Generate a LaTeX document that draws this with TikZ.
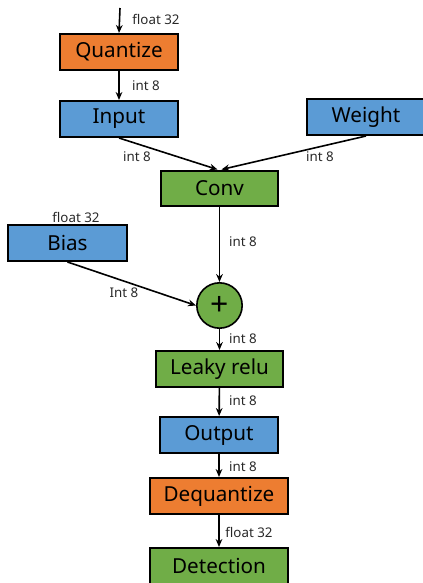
\documentclass[tikz,border=0pt]{standalone}
\usepackage{fontspec}
\setmainfont{Noto Sans}
\usepackage{tikz}
\usetikzlibrary{arrows.meta,positioning,shapes.geometric}
\definecolor{quantorange}{RGB}{237, 125, 49}
\definecolor{tensorblue}{RGB}{91, 155, 213}
\definecolor{opgreen}{RGB}{112, 173, 71}
\definecolor{fontgray}{RGB}{40, 40, 40}

\begin{document}
\begin{tikzpicture}[x=0.75pt, y=-0.75pt, >={Stealth[length=6pt,width=5pt]},
			block/.style={draw=black, rectangle, line width=1.5pt, minimum height=27pt, inner sep=0pt, font=\fontsize{15.5}{18}\selectfont},
			quantbox/.style={block, fill=quantorange},
			tensorbox/.style={block, fill=tensorblue},
			opbox/.style={block, fill=opgreen},
			addnode/.style={draw=black, circle, line width=1.2pt, minimum size=34pt, inner sep=0pt, fill=opgreen, font=\fontsize{24}{24}\selectfont\bfseries},
			dtype/.style={draw=none, inner sep=0pt, text=fontgray, font=\fontsize{10}{12}\selectfont},
			flow/.style={->, line width=1.2pt, color=black}
			]
			\useasboundingbox (0,0) rectangle (423,583);
			
			\coordinate (src) at (120,8);
			\node[quantbox, minimum width=88.5pt](quant) at (119,52) {Quantize};
			\node[tensorbox, minimum width=88.5pt](input) at (119,119) {Input};
			\node[tensorbox, minimum width=88.5pt](weight) at (366,117) {Weight};
			\node[opbox, minimum width=87.75pt, minimum height=26.25pt](conv) at (219.5,188) {Conv};
			\node[tensorbox, minimum width=89.25pt](bias) at (67.5,243) {Bias};
			\node[addnode](plus) at (219.5,305.5) {+};
			\node[opbox, minimum width=95.25pt](leaky) at (219.5,369) {Leaky relu};
			\node[tensorbox, minimum width=88.5pt](output) at (219,435) {Output};
			\node[quantbox, minimum width=103.5pt](dequant) at (219,496) {Dequantize};
			\node[opbox, minimum width=103.5pt](detect) at (219,566) {Detection};
			
			% data types on the connectors
			\node[dtype](d0) at (156,19) {float 32};
			\node[dtype](d1) at (146,86) {int 8};
			\node[dtype](d2) at (137,157) {int 8};
			\node[dtype](d3) at (320,157) {int 8};
			\node[dtype](d4) at (76,217) {float 32};
			\node[dtype](d5) at (243,242) {int 8};
			\node[dtype](d6) at (124,293) {Int 8};
			\node[dtype](d7) at (243,339) {int 8};
			\node[dtype](d8) at (243,401) {int 8};
			\node[dtype](d9) at (243,467) {int 8};
			\node[dtype](d10) at (249,532) {float 32};
			
			\draw [flow] (src) to (quant.north);
			\draw [flow] (quant) to (input);
			\draw [flow] (input.south) to ([xshift=-1.5pt]conv.north);
			\draw [flow] (weight.south) to ([xshift=1.5pt]conv.north);
			\draw [flow] (conv) to (plus);
			\draw [flow] (bias.south) to (plus.west);
			\draw [flow] (plus) to (leaky);
			\draw [flow] (leaky) to (output);
			\draw [flow] (output) to (dequant);
			\draw [flow] (dequant) to (detect);
			
\end{tikzpicture}
\end{document}
